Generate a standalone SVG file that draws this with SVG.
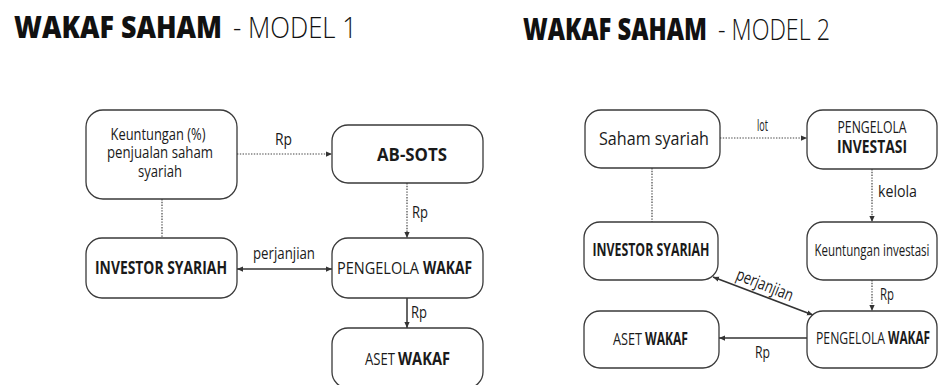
<svg xmlns="http://www.w3.org/2000/svg" width="938" height="385" viewBox="0 0 938 385">
<defs>
<style>
.box{fill:#fff;stroke:#3a3a3a;stroke-width:1.3}
.dot{fill:none;stroke:#444;stroke-width:1.2;stroke-dasharray:1.4 1.4}
.sol{fill:none;stroke:#333;stroke-width:1.5}
.t{font-family:"Open Sans","DejaVu Sans",sans-serif;font-size:17px;fill:#1a1a1a}
.c{text-anchor:middle}
.b{font-weight:700}
.h1{font-family:"Open Sans","DejaVu Sans",sans-serif;font-size:30px;font-weight:800;fill:#111}
.h2{font-family:"Open Sans","DejaVu Sans",sans-serif;font-size:30px;font-weight:300;fill:#111}
</style>
<marker id="ah" viewBox="0 0 8 8" refX="8" refY="4" markerWidth="6" markerHeight="6" markerUnits="userSpaceOnUse" orient="auto-start-reverse">
<path d="M0,0.5 L8,4 L0,7.5 z" fill="#333"/>
</marker>
</defs>
<rect width="938" height="385" fill="#fff"/>

<g id="title1">
<text class="h1" x="14" y="38" textLength="208" lengthAdjust="spacingAndGlyphs">WAKAF SAHAM</text>
<text class="h2" x="233" y="38" textLength="124" lengthAdjust="spacingAndGlyphs">- MODEL 1</text>
</g>
<g id="title2">
<text class="h1" x="523" y="40" textLength="184" lengthAdjust="spacingAndGlyphs">WAKAF SAHAM</text>
<text class="h2" x="718" y="40" textLength="112" lengthAdjust="spacingAndGlyphs">- MODEL 2</text>
</g>

<g id="connectors">
<line class="dot" x1="237" y1="154" x2="332" y2="154" marker-end="url(#ah)"/>
<line class="dot" x1="162" y1="199" x2="162" y2="238"/>
<line class="dot" x1="407" y1="183" x2="407" y2="238" marker-end="url(#ah)"/>
<line class="sol" x1="237" y1="269" x2="332" y2="269" marker-start="url(#ah)" marker-end="url(#ah)"/>
<line class="sol" x1="407" y1="298" x2="407" y2="328" marker-end="url(#ah)"/>
<line class="dot" x1="720" y1="138" x2="807" y2="138" marker-end="url(#ah)"/>
<line class="dot" x1="652" y1="168" x2="652" y2="222"/>
<line class="dot" x1="872" y1="169" x2="872" y2="222" marker-end="url(#ah)"/>
<line class="dot" x1="872" y1="280" x2="872" y2="311" marker-end="url(#ah)"/>
<line class="sol" x1="713" y1="277" x2="813" y2="315" marker-start="url(#ah)" marker-end="url(#ah)"/>
<line class="sol" x1="807" y1="338" x2="719" y2="338" marker-end="url(#ah)"/>
<text class="t" x="275" y="145" textLength="17" lengthAdjust="spacingAndGlyphs">Rp</text>
<text class="t" x="412" y="218" textLength="16" lengthAdjust="spacingAndGlyphs">Rp</text>
<text class="t" x="253" y="259" textLength="62" lengthAdjust="spacingAndGlyphs">perjanjian</text>
<text class="t" x="411" y="318" textLength="16" lengthAdjust="spacingAndGlyphs">Rp</text>
<text class="t" x="757" y="131" textLength="11" lengthAdjust="spacingAndGlyphs">lot</text>
<text class="t" x="878" y="197" textLength="39" lengthAdjust="spacingAndGlyphs">kelola</text>
<text class="t" x="880" y="300" textLength="14" lengthAdjust="spacingAndGlyphs">Rp</text>
<text class="t" transform="translate(735,279) rotate(22)" x="0" y="0" textLength="60" lengthAdjust="spacingAndGlyphs">perjanjian</text>
<text class="t" x="755" y="358" textLength="15" lengthAdjust="spacingAndGlyphs">Rp</text>
</g>

<g id="m1-keuntungan">
<rect class="box" x="86" y="110" width="151" height="89" rx="17"/>
<text class="t c" x="158" y="140" textLength="95" lengthAdjust="spacingAndGlyphs">Keuntungan (%)</text>
<text class="t c" x="160" y="158" textLength="106" lengthAdjust="spacingAndGlyphs">penjualan saham</text>
<text class="t c" x="160" y="177" textLength="44" lengthAdjust="spacingAndGlyphs">syariah</text>
</g>
<g id="m1-absots">
<rect class="box" x="332" y="125" width="151" height="58" rx="16"/>
<text class="t c b" x="412" y="161" textLength="70" lengthAdjust="spacingAndGlyphs">AB-SOTS</text>
</g>
<g id="m1-investor">
<rect class="box" x="86" y="238" width="151" height="60" rx="16"/>
<text class="t c b" x="161" y="274" textLength="132" lengthAdjust="spacingAndGlyphs">INVESTOR SYARIAH</text>
</g>
<g id="m1-pengelola">
<rect class="box" x="332" y="238" width="151" height="60" rx="16"/>
<text class="t" x="337" y="274" textLength="82" lengthAdjust="spacingAndGlyphs">PENGELOLA</text>
<text class="t b" x="423" y="274" textLength="49" lengthAdjust="spacingAndGlyphs">WAKAF</text>
</g>
<g id="m1-aset">
<rect class="box" x="332" y="328" width="151" height="60" rx="16"/>
<text class="t" x="365" y="365" textLength="30" lengthAdjust="spacingAndGlyphs">ASET</text>
<text class="t b" x="398" y="365" textLength="52" lengthAdjust="spacingAndGlyphs">WAKAF</text>
</g>

<g id="m2-saham">
<rect class="box" x="585" y="110" width="135" height="58" rx="16"/>
<text class="t c" x="654" y="145" textLength="110" lengthAdjust="spacingAndGlyphs" style="font-size:18px">Saham syariah</text>
</g>
<g id="m2-pengelola-investasi">
<rect class="box" x="807" y="110" width="130" height="59" rx="16"/>
<text class="t c" x="872" y="133" textLength="69" lengthAdjust="spacingAndGlyphs">PENGELOLA</text>
<text class="t c b" x="872" y="153" textLength="70" lengthAdjust="spacingAndGlyphs">INVESTASI</text>
</g>
<g id="m2-investor">
<rect class="box" x="584" y="222" width="134" height="58" rx="16"/>
<text class="t c b" x="651" y="256" textLength="117" lengthAdjust="spacingAndGlyphs">INVESTOR SYARIAH</text>
</g>
<g id="m2-keuntungan">
<rect class="box" x="807" y="222" width="130" height="58" rx="16"/>
<text class="t c" x="872" y="256" textLength="115" lengthAdjust="spacingAndGlyphs">Keuntungan investasi</text>
</g>
<g id="m2-aset">
<rect class="box" x="584" y="311" width="135" height="57" rx="16"/>
<text class="t" x="613" y="345" textLength="29" lengthAdjust="spacingAndGlyphs">ASET</text>
<text class="t b" x="645" y="345" textLength="43" lengthAdjust="spacingAndGlyphs">WAKAF</text>
</g>
<g id="m2-pengelola-wakaf">
<rect class="box" x="807" y="311" width="130" height="57" rx="16"/>
<text class="t" x="816" y="344" textLength="69" lengthAdjust="spacingAndGlyphs">PENGELOLA</text>
<text class="t b" x="888" y="344" textLength="42" lengthAdjust="spacingAndGlyphs">WAKAF</text>
</g>
</svg>
